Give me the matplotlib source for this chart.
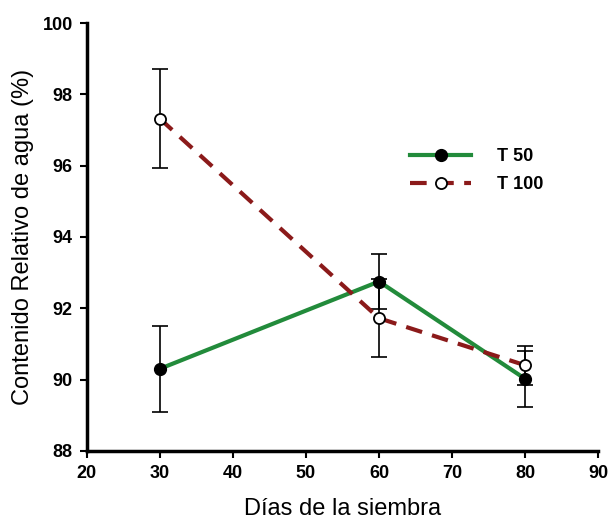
import matplotlib
matplotlib.use("Agg")
import matplotlib.pyplot as plt

plt.rcParams['font.family'] = ['Liberation Sans', 'DejaVu Sans']

# data
dias = [30, 60, 80]
t50 = [90.3, 92.75, 90.02]
t50_err = [1.2, 0.77, 0.78]
t100 = [97.32, 91.72, 90.4]
t100_err = [1.38, 1.1, 0.55]

xticks = [20, 30, 40, 50, 60, 70, 80, 90]
yticks = [88, 90, 92, 94, 96, 98, 100]

fig = plt.figure(figsize=(6.11, 5.26), dpi=100)
ax = fig.add_axes([0.142, 0.143, 0.837, 0.813])

# error bars first (drawn underneath the lines)
ax.errorbar(dias, t50, yerr=t50_err, fmt='none', ecolor='black',
            elinewidth=1.2, capsize=6, capthick=1.2, zorder=2)
ax.errorbar(dias, t100, yerr=t100_err, fmt='none', ecolor='black',
            elinewidth=1.2, capsize=6, capthick=1.2, zorder=2)

ax.plot(dias, t50, color='#228B3B', lw=3, marker='o', ms=8.5,
        mfc='black', mec='black', label='T 50', zorder=3)
ax.plot(dias, t100, color='#8B1A1A', lw=3, ls=(0, (4, 2.5)), marker='o',
        ms=8, mfc='white', mec='black', mew=1.3, label='T 100', zorder=4)

ax.set_xlim(20, 90)
ax.set_ylim(88, 100)
ax.set_xticks(xticks)
ax.set_yticks(yticks)
for lab in ax.get_xticklabels() + ax.get_yticklabels():
    lab.set_fontweight('bold')
    lab.set_fontsize(13)

for s in ['top', 'right']:
    ax.spines[s].set_visible(False)
for s in ['left', 'bottom']:
    ax.spines[s].set_linewidth(2.5)
ax.tick_params(direction='out', length=5, width=1.5, pad=5)

ax.set_xlabel('Días de la siembra', fontsize=17, labelpad=12)
ax.set_ylabel('Contenido Relativo de agua (%)', fontsize=17, labelpad=6)

leg = ax.legend(loc='upper left', bbox_to_anchor=(0.6, 0.745), frameon=False,
                handlelength=3.4, handletextpad=1.4, labelspacing=0.6,
                prop={'weight': 'bold', 'size': 13})

fig.savefig('out.png', dpi=100)
